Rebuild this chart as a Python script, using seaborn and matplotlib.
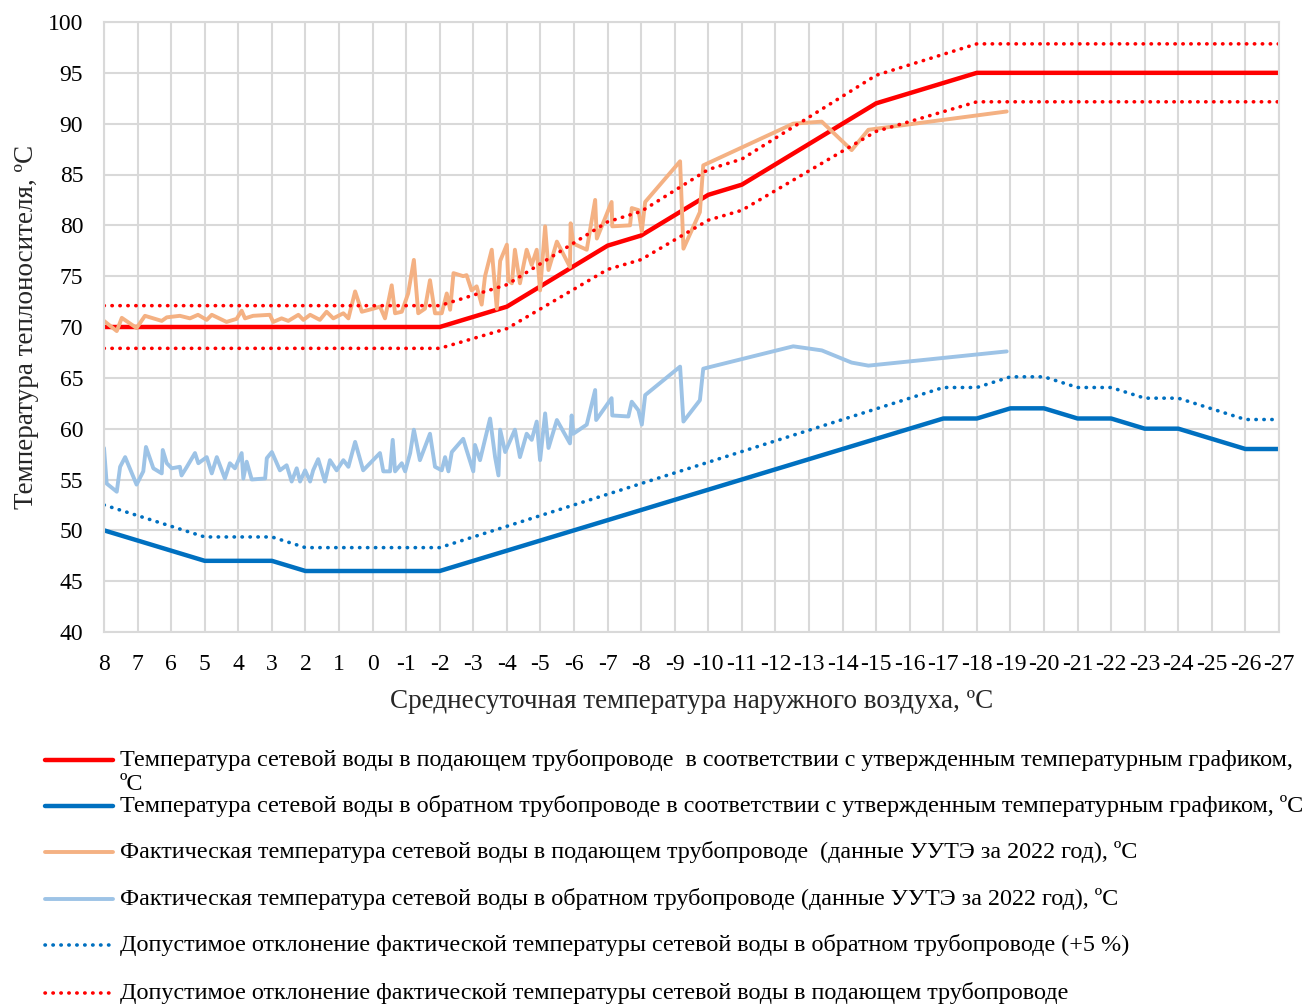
import matplotlib

matplotlib.use('Agg')
import matplotlib.pyplot as plt
from matplotlib.lines import Line2D
import seaborn as sns
import pandas as pd

# --- данные ---
outdoor_temp = list(range(8, -28, -1))
tick_labels = [str(t) for t in outdoor_temp]

supply_schedule = [70, 70, 70, 70, 70, 70, 70, 70, 70, 70, 70,
                   71, 72, 74, 76, 78, 79, 81, 83, 84, 86, 88, 90, 92, 93, 94,
                   95, 95, 95, 95, 95, 95, 95, 95, 95, 95]
return_schedule = [50, 49, 48, 47, 47, 47, 46, 46, 46, 46, 46,
                   47, 48, 49, 50, 51, 52, 53, 54, 55, 56, 57, 58, 59, 60, 61,
                   61, 62, 62, 61, 61, 60, 60, 59, 58, 58]
supply_upper = [72.1, 72.1, 72.1, 72.1, 72.1, 72.1, 72.1, 72.1, 72.1, 72.1, 72.1,
                73.13, 74.16, 76.22, 78.28, 80.34, 81.37, 83.43, 85.49, 86.52, 88.58,
                90.64, 92.7, 94.76, 95.79, 96.82,
                97.85, 97.85, 97.85, 97.85, 97.85, 97.85, 97.85, 97.85, 97.85, 97.85]
supply_lower = [67.9, 67.9, 67.9, 67.9, 67.9, 67.9, 67.9, 67.9, 67.9, 67.9, 67.9,
                68.87, 69.84, 71.78, 73.72, 75.66, 76.63, 78.57, 80.51, 81.48, 83.42,
                85.36, 87.3, 89.24, 90.21, 91.18,
                92.15, 92.15, 92.15, 92.15, 92.15, 92.15, 92.15, 92.15, 92.15, 92.15]
return_upper = [52.5, 51.45, 50.4, 49.35, 49.35, 49.35, 48.3, 48.3, 48.3, 48.3, 48.3,
                49.35, 50.4, 51.45, 52.5, 53.55, 54.6, 55.65, 56.7, 57.75, 58.8,
                59.85, 60.9, 61.95, 63.0, 64.05,
                64.05, 65.1, 65.1, 64.05, 64.05, 63.0, 63.0, 61.95, 60.9, 60.9]

# фактические данные УУТЭ за 2022 год (подача)
fact_supply_t = [8.00, 7.62, 7.47, 7.03, 6.78, 6.28, 6.13, 5.74, 5.44, 5.20, 4.94, 4.79,
                 4.35, 4.05, 3.90, 3.80, 3.56, 3.06, 2.96, 2.71, 2.51, 2.21, 2.06, 1.86,
                 1.57, 1.37, 1.17, 0.87, 0.72, 0.52, 0.32, -0.02, -0.22, -0.37, -0.57,
                 -0.67, -0.87, -1.06, -1.23, -1.36, -1.56, -1.71, -1.86, -2.06, -2.21,
                 -2.31, -2.41, -2.70, -2.80, -2.95, -3.10, -3.25, -3.35, -3.55, -3.70,
                 -3.80, -4.00, -4.04, -4.15, -4.24, -4.39, -4.59, -4.74, -4.89, -4.99,
                 -5.14, -5.24, -5.49, -5.88, -5.90, -5.98, -6.38, -6.63, -6.68, -7.12,
                 -7.14, -7.67, -7.72, -7.92, -8.02, -8.12, -9.16, -9.26, -9.75, -9.85,
                 -12.53, -13.38, -14.27, -14.77, -18.89]
fact_supply = [70.6, 69.6, 70.9, 69.9, 71.1, 70.6, 70.95, 71.1, 70.85, 71.2, 70.7, 71.2,
               70.5, 70.8, 71.6, 70.85, 71.1, 71.2, 70.5, 70.85, 70.6, 71.2, 70.7, 71.2,
               70.7, 71.5, 70.85, 71.35, 70.85, 73.5, 71.5, 71.8, 72.0, 70.85, 74.1,
               71.35, 71.5, 73.3, 76.6, 71.35, 71.8, 74.6, 71.35, 71.35, 73.3,
               71.7, 75.3, 75.0, 75.1, 73.6, 74.0, 72.2, 75.0, 77.6, 71.8,
               76.5, 78.1, 74.6, 74.3, 77.6, 74.3, 77.6, 76.1, 77.6, 73.6,
               79.9, 75.6, 78.4, 75.9, 80.2, 78.2, 77.6, 82.5, 78.7, 82.3,
               79.9, 80.0, 81.7, 81.5, 79.4, 82.3, 86.3, 77.7, 81.3, 85.9,
               90.0, 90.2, 87.4, 89.4, 91.2]

# фактические данные УУТЭ за 2022 год (обратка)
fact_return_t = [8.00, 7.92, 7.62, 7.52, 7.37, 7.03, 6.83, 6.75, 6.53, 6.28, 6.25, 6.13,
                 5.98, 5.74, 5.69, 5.54, 5.29, 5.19, 4.94, 4.79, 4.64, 4.40, 4.25, 4.10,
                 3.90, 3.85, 3.75, 3.60, 3.20, 3.15, 3.00, 2.76, 2.56, 2.41, 2.26, 2.16,
                 2.01, 1.86, 1.77, 1.62, 1.42, 1.27, 1.07, 0.87, 0.72, 0.52, 0.28, -0.22,
                 -0.32, -0.52, -0.60, -0.67, -0.87, -0.97, -1.12, -1.23, -1.41, -1.71,
                 -1.86, -2.06, -2.16, -2.26, -2.36, -2.70, -2.80, -3.00, -3.05, -3.20,
                 -3.50, -3.65, -3.75, -3.80, -3.95, -4.24, -4.39, -4.59, -4.74, -4.89,
                 -4.99, -5.14, -5.24, -5.49, -5.88, -5.93, -5.98, -6.38, -6.63, -6.66,
                 -7.12, -7.14, -7.62, -7.72, -7.92, -8.02, -8.12, -9.16, -9.26, -9.75,
                 -9.85, -12.53, -13.38, -14.27, -14.77, -18.89]
fact_return = [58.1, 54.6, 53.8, 56.25, 57.2, 54.5, 55.8, 58.2, 56.1, 55.6, 57.9, 56.6,
               56.1, 56.25, 55.4, 56.2, 57.6, 56.6, 57.2, 55.6, 57.2, 55.1, 56.6, 56.1,
               57.6, 55.1, 56.75, 55.0, 55.1, 57.1, 57.7, 55.9, 56.4, 54.8, 56.1, 54.8,
               55.9, 54.8, 55.9, 57.0, 54.8, 56.9, 55.9, 56.9, 56.25, 58.7, 55.9, 57.6,
               55.8, 55.8, 58.9, 55.8, 56.6, 55.8, 57.6, 59.9, 56.9, 59.5,
               56.25, 55.9, 57.2, 55.8, 57.7, 59.0, 57.9, 55.8, 58.4, 56.9,
               61.0, 57.2, 55.4, 59.9, 57.7, 59.9, 57.2, 59.5, 58.9, 60.7,
               56.9, 61.5, 58.1, 60.85, 58.55, 61.3, 59.5, 60.4, 63.8, 60.85,
               63.0, 61.3, 61.2, 62.65, 61.8, 60.4, 63.3, 66.1, 60.7, 62.8,
               65.9, 68.1, 67.7, 66.5, 66.2, 67.6]

legend_labels = [
    "Температура сетевой воды в подающем трубопроводе  в соответствии с утвержденным температурным графиком,\nºC",
    "Температура сетевой воды в обратном трубопроводе в соответствии с утвержденным температурным графиком, ºC",
    "Фактическая температура сетевой воды в подающем трубопроводе  (данные УУТЭ за 2022 год), ºC",
    "Фактическая температура сетевой воды в обратном трубопроводе (данные УУТЭ за 2022 год), ºC",
    "Допустимое отклонение фактической температуры сетевой воды в обратном трубопроводе (+5 %)",
    "Допустимое отклонение фактической температуры сетевой воды в подающем трубопроводе",
]

RED = '#FF0000'
BLUE = '#0070C0'
ORANGE = '#F4B183'
LIGHTBLUE = '#9DC3E6'
DOTS = (0, (0.1, 2.1))

sched = pd.DataFrame({'t': outdoor_temp, 'supply': supply_schedule, 'ret': return_schedule,
                      'sup_hi': supply_upper, 'sup_lo': supply_lower, 'ret_hi': return_upper})
fs = pd.DataFrame({'t': fact_supply_t, 'v': fact_supply})
fr = pd.DataFrame({'t': fact_return_t, 'v': fact_return})

sns.set_style('white')
plt.rcParams['font.family'] = ['Liberation Serif', 'DejaVu Serif']

fig = plt.figure(figsize=(13.1, 10.06), dpi=100)
W, H = 1310, 1006
ax = fig.add_axes([104 / W, 1 - 632 / H, (1279 - 104) / W, (632 - 22) / H])

common = dict(estimator=None, sort=False, legend=False, ax=ax)
dotted = dict(linewidth=2.6, linestyle=DOTS, dash_capstyle='round')
sns.lineplot(data=sched, x='t', y='supply', color=RED, linewidth=3.2, **common)
sns.lineplot(data=sched, x='t', y='ret', color=BLUE, linewidth=3.2, **common)
sns.lineplot(data=fs, x='t', y='v', color=ORANGE, linewidth=2.8, **common)
sns.lineplot(data=fr, x='t', y='v', color=LIGHTBLUE, linewidth=2.8, **common)
sns.lineplot(data=sched, x='t', y='ret_hi', color=BLUE, **dotted, **common)
sns.lineplot(data=sched, x='t', y='sup_hi', color=RED, **dotted, **common)
sns.lineplot(data=sched, x='t', y='sup_lo', color=RED, **dotted, **common)

ax.set_xlim(8, -27)
ax.set_ylim(40, 100)
ax.set_xticks(outdoor_temp)
ax.set_xticklabels(tick_labels)
ax.set_yticks(range(40, 101, 5))
ax.tick_params(length=0, labelsize=17, colors='black')
ax.tick_params(axis='x', pad=16)
ax.tick_params(axis='y', pad=15)
ax.grid(True, color='#d9d9d9', linewidth=1.5)
ax.set_axisbelow(True)
for sp in ax.spines.values():
    sp.set_color('#d9d9d9')
    sp.set_linewidth(1.5)

ax.set_xlabel('Среднесуточная температура наружного воздуха, ºC', fontsize=19.5, labelpad=10)
ax.set_ylabel('Температура теплоносителя, ºC', fontsize=19.5, labelpad=6)

# легенда снизу, вручную
styles = [
    dict(color=RED, lw=3.2),
    dict(color=BLUE, lw=3.2),
    dict(color=ORANGE, lw=2.8),
    dict(color=LIGHTBLUE, lw=2.8),
    dict(color=BLUE, lw=2.6, linestyle=DOTS, dash_capstyle='round'),
    dict(color=RED, lw=2.6, linestyle=DOTS, dash_capstyle='round'),
]
legend_y = [760, 806, 852, 899, 945, 993]
for lab, st, y in zip(legend_labels, styles, legend_y):
    yf = 1 - y / H
    fig.add_artist(Line2D([45 / W, 113 / W], [yf, yf], transform=fig.transFigure, **st))
    fig.text(120 / W, 1 - (y - 11) / H, lab, fontsize=17.4, va='top', ha='left',
             linespacing=1.2, color='black')

fig.savefig('out.png', dpi=100)
plt.close(fig)
